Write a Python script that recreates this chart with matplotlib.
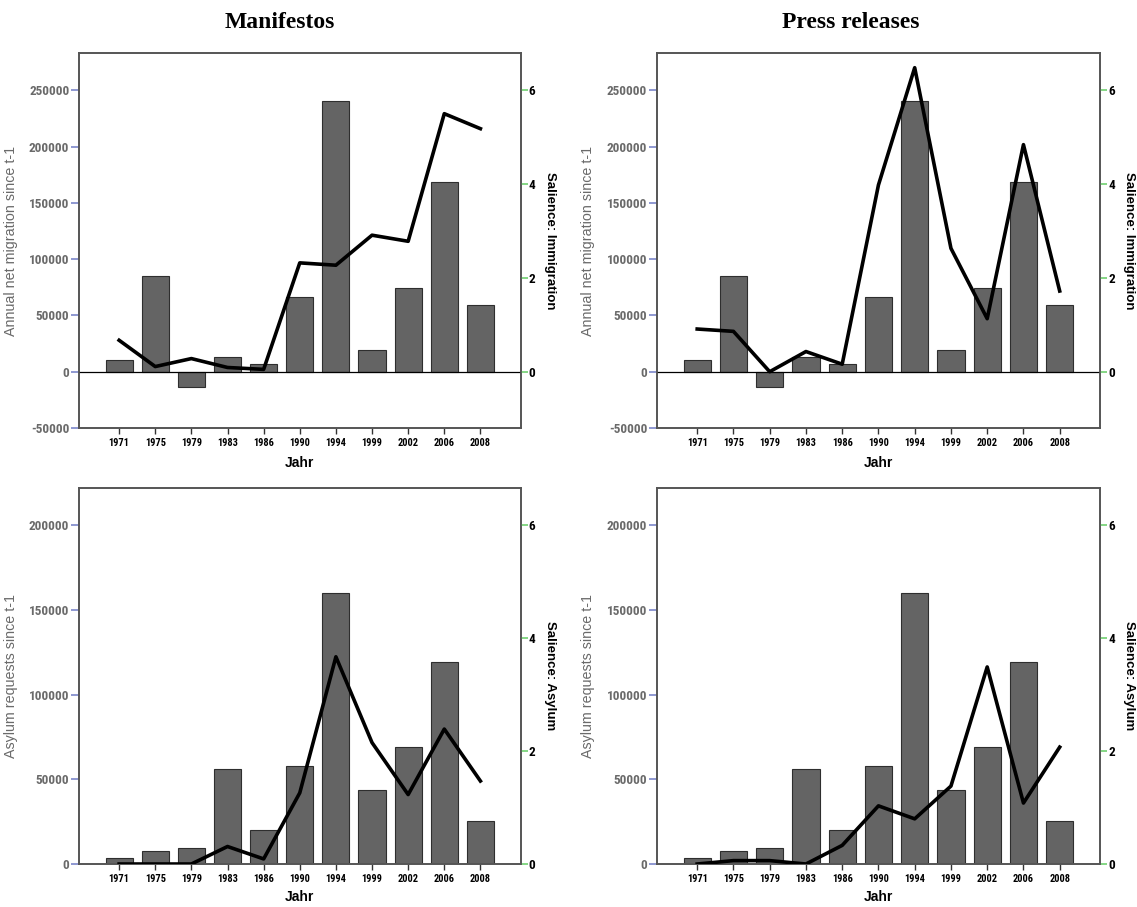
import numpy as np
import matplotlib
matplotlib.use("Agg")
import matplotlib.pyplot as plt
from matplotlib import font_manager

years = ["1971", "1975", "1979", "1983", "1986", "1990",
         "1994", "1999", "2002", "2006", "2008"]

# bars: net migration and asylum requests since previous election
net_migration = [10500, 85000, -13300, 13300, 7100, 66600,
                 240200, 18900, 74000, 168300, 58900]
asylum_requests = [3500, 7500, 9600, 55800, 20100, 57900,
                   160000, 43700, 68800, 119000, 25400]

# lines: salience in manifestos / press releases
sal_imm_manifesto = [0.67, 0.11, 0.28, 0.09, 0.05, 2.32,
                     2.27, 2.91, 2.78, 5.50, 5.18]
sal_imm_press = [0.91, 0.86, 0.0, 0.43, 0.16, 3.98,
                 6.48, 2.63, 1.13, 4.84, 1.72]
sal_asy_manifesto = [0.0, 0.0, 0.0, 0.31, 0.09, 1.26,
                     3.67, 2.15, 1.23, 2.39, 1.47]
sal_asy_press = [0.0, 0.06, 0.06, 0.0, 0.33, 1.03,
                 0.80, 1.38, 3.49, 1.08, 2.07]

# pick a narrow face for the tick labels if one is installed
names = {f.name for f in font_manager.fontManager.ttflist}
narrow = None
for cand in ["Liberation Sans Narrow", "Arial Narrow", "Roboto Condensed",
             "Open Sans Condensed", "DejaVu Sans Condensed"]:
    if cand in names:
        narrow = cand
        break
if narrow is None:
    narrow, ytick_size, xtick_size = "Liberation Sans", 8, 6.5
else:
    ytick_size, xtick_size = 9.5, 7.5

BAR = "#646464"
SPINE = "#555555"
LEFT_TICK = "#7b86c9"
RIGHT_TICK = "#6fcf6f"
GRAY_TXT = "#6a6a6a"


def panel(rect, bars, line, ylim, yticks, ylabel, rlabel, zero_line, jahr_y):
    ax = fig.add_axes(rect)
    x = np.arange(len(years))
    ax.bar(x, bars, width=0.75, color=BAR, edgecolor="#2e2e2e", linewidth=0.8, zorder=2)
    ax.set_xlim(-1.11, 11.11)
    ax.set_ylim(*ylim)
    ax.set_yticks(yticks)
    ax.set_yticklabels([str(v) for v in yticks], fontfamily=narrow,
                       fontweight="bold", fontsize=ytick_size, color=GRAY_TXT)
    ax.set_xticks(x)
    ax.set_xticklabels(years, fontfamily=narrow, fontweight="bold", fontsize=xtick_size)
    ax.tick_params(axis="y", colors=LEFT_TICK, length=6, width=1.2, pad=1,
                   labelcolor=GRAY_TXT)
    ax.tick_params(axis="x", length=4, width=1, colors="#333333", labelcolor="black",
                   pad=3)
    ax.set_ylabel(ylabel, fontsize=10.3, color=GRAY_TXT, fontfamily="Liberation Sans")
    ax.yaxis.set_label_coords(-0.139, 0.5)
    ax.set_xlabel("Jahr", fontsize=10, fontweight="bold", fontfamily="Liberation Sans",
                  va="center")
    ax.xaxis.set_label_coords(0.5, jahr_y)
    if zero_line:
        ax.axhline(0, color="black", linewidth=0.9, zorder=3)
    for s in ax.spines.values():
        s.set_color(SPINE)
        s.set_linewidth(1.2)

    ax2 = ax.twinx()
    scale = 6 / yticks[-1]
    ax2.set_ylim(ylim[0] * scale, ylim[1] * scale)
    ax2.plot(x, line, color="black", linewidth=2.6, zorder=4)
    ax2.set_yticks([0, 2, 4, 6])
    ax2.set_yticklabels(["0", "2", "4", "6"], fontfamily=narrow, fontweight="bold",
                        fontsize=ytick_size)
    ax2.tick_params(axis="y", colors=RIGHT_TICK, length=5, width=1.2, pad=1,
                    labelcolor="black")
    ax2.set_ylabel(rlabel, rotation=-90, fontsize=9.5, fontweight="bold",
                   fontfamily="Liberation Sans", va="center")
    ax2.yaxis.set_label_coords(1.066, 0.5)
    for s in ax2.spines.values():
        s.set_color(SPINE)
        s.set_linewidth(1.2)
    return ax


fig = plt.figure(figsize=(11.37, 9.07), dpi=100)

top_ylim = (-50000, 283000)
top_ticks = [-50000, 0, 50000, 100000, 150000, 200000, 250000]
bot_ylim = (0, 222000)
bot_ticks = [0, 50000, 100000, 150000, 200000]

panel([0.0695, 0.5281, 0.3883, 0.4134], net_migration, sal_imm_manifesto,
      top_ylim, top_ticks, "Annual net migration since t-1", "Salience: Immigration",
      True, -0.094)
panel([0.5778, 0.5281, 0.3896, 0.4134], net_migration, sal_imm_press,
      top_ylim, top_ticks, "Annual net migration since t-1", "Salience: Immigration",
      True, -0.094)
panel([0.0695, 0.0474, 0.3883, 0.4146], asylum_requests, sal_asy_manifesto,
      bot_ylim, bot_ticks, "Asylum requests since t-1", "Salience: Asylum",
      False, -0.088)
panel([0.5778, 0.0474, 0.3896, 0.4146], asylum_requests, sal_asy_press,
      bot_ylim, bot_ticks, "Asylum requests since t-1", "Salience: Asylum",
      False, -0.088)

fig.text(0.246, 0.975, "Manifestos", ha="center", va="center", fontsize=17,
         fontweight="bold", fontfamily="Liberation Serif")
fig.text(0.748, 0.975, "Press releases", ha="center", va="center", fontsize=17,
         fontweight="bold", fontfamily="Liberation Serif")

fig.savefig("out.png", dpi=100)
